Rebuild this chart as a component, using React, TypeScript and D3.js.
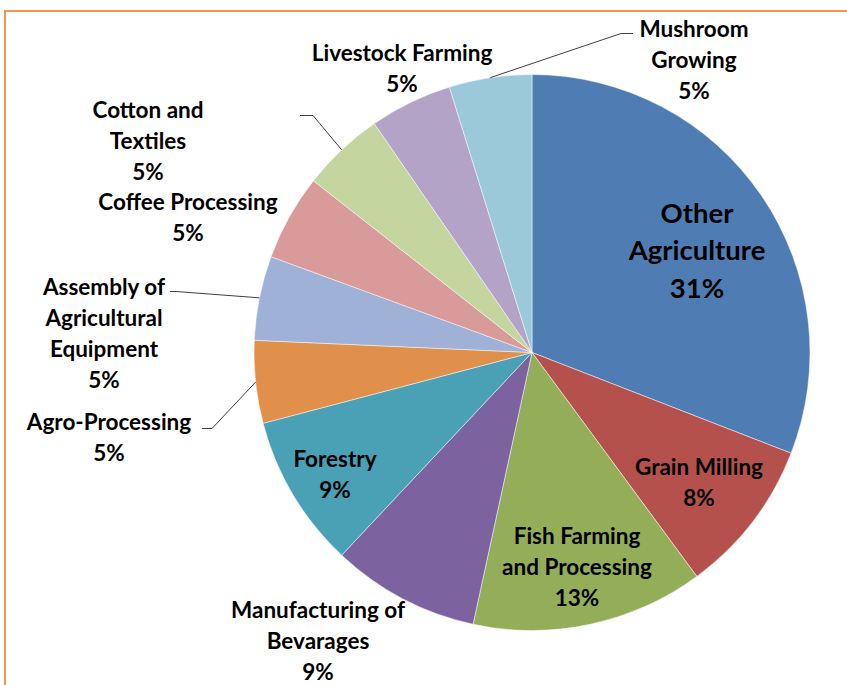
import React, { useEffect, useRef } from 'react';
import * as d3 from 'd3';

// sector shares, clockwise from 12 o'clock
const sectors = [
  'Other Agriculture',
  'Grain Milling',
  'Fish Farming and Processing',
  'Manufacturing of Bevarages',
  'Forestry',
  'Agro-Processing',
  'Assembly of Agricultural Equipment',
  'Coffee Processing',
  'Cotton and Textiles',
  'Livestock Farming',
  'Mushroom Growing',
];
const shares = [30.9, 9.0, 13.5, 8.6, 8.9, 4.8, 4.9, 5.0, 4.8, 4.8, 4.8];
// percentages as printed on the chart
const pctLabels = ['31%', '8%', '13%', '9%', '9%', '5%', '5%', '5%', '5%', '5%', '5%'];

// how the label text breaks into lines
const labelLines = [
  ['Other', 'Agriculture'],
  ['Grain Milling'],
  ['Fish Farming', 'and Processing'],
  ['Manufacturing of', 'Bevarages'],
  ['Forestry'],
  ['Agro-Processing'],
  ['Assembly of', 'Agricultural', 'Equipment'],
  ['Coffee Processing'],
  ['Cotton and', 'Textiles'],
  ['Livestock Farming'],
  ['Mushroom', 'Growing'],
];

const colors = [
  '#4F7DB3', '#B5514D', '#94AD58', '#7D62A0', '#4AA1B6', '#E0904A',
  '#9FB1D6', '#D99B99', '#C4D5A0', '#B2A3C7', '#9CC9DA',
];

// label placement relative to pie centre (label block centre) and optional leader elbow/end
const labelLayout: { dx: number; dy: number; big?: boolean; leader?: [number, number, number, number] }[] = [
  { dx: 165, dy: -102, big: true },
  { dx: 167, dy: 130 },
  { dx: 45, dy: 214 },
  { dx: -214, dy: 288 },
  { dx: -197, dy: 122 },
  { dx: -423, dy: 85, leader: [-320, 76, -330, 76] },
  { dx: -428, dy: -19, leader: [-356, -61, -362, -61] },
  { dx: -344, dy: -135 },
  { dx: -384, dy: -212, leader: [-219, -237, -232, -237] },
  { dx: -130, dy: -284 },
  { dx: 162, dy: -293, leader: [89, -319, 101, -319] },
];

const W = 847;
const H = 685;
const cx = 532;
const cy = 352.5;
const R = 278;

export default function App() {
  const ref = useRef<SVGSVGElement>(null);

  useEffect(() => {
    if (!ref.current) return;
    const svg = d3.select(ref.current);
    svg.selectAll('*').remove();

    svg.append('rect').attr('width', W).attr('height', H).attr('fill', '#fff');

    // orange frame (runs off the right/bottom edge)
    svg.append('rect')
      .attr('x', 5).attr('y', 11)
      .attr('width', W + 10).attr('height', H + 10)
      .attr('fill', 'none')
      .attr('stroke', '#F79646')
      .attr('stroke-width', 2);

    const data = sectors.map((s, i) => ({ name: s, value: shares[i], i }));
    const pie = d3.pie<typeof data[0]>().sort(null).value(d => d.value);
    const arcs = pie(data);
    const arc = d3.arc<d3.PieArcDatum<typeof data[0]>>().innerRadius(0).outerRadius(R);

    const g = svg.append('g').attr('transform', `translate(${cx},${cy})`);

    g.selectAll('path.slice')
      .data(arcs)
      .join('path')
      .attr('class', 'slice')
      .attr('d', arc)
      .attr('fill', d => colors[d.data.i])
      .attr('stroke', '#ffffff')
      .attr('stroke-opacity', 0.6)
      .attr('stroke-width', 0.8);

    // leader lines
    arcs.forEach(a => {
      const lay = labelLayout[a.data.i];
      if (!lay.leader) return;
      const mid = (a.startAngle + a.endAngle) / 2;
      const sx = R * Math.sin(mid);
      const sy = -R * Math.cos(mid);
      const [ex, ey, tx, ty] = lay.leader;
      g.append('path')
        .attr('d', d3.line()([[sx, sy], [ex, ey], [tx, ty]]))
        .attr('fill', 'none')
        .attr('stroke', '#404040')
        .attr('stroke-width', 1);
    });

    // labels
    arcs.forEach(a => {
      const i = a.data.i;
      const lay = labelLayout[i];
      const lines = [...labelLines[i], pctLabels[i]];
      const fs = lay.big ? 27.5 : 22.5;
      const lh = lay.big ? 37.5 : 31;
      const top = lay.dy - ((lines.length - 1) * lh) / 2;
      const t = g.append('text')
        .attr('text-anchor', 'middle')
        .attr('font-family', 'Lato, "Open Sans", sans-serif')
        .attr('font-weight', 'bold')
        .attr('font-size', fs)
        .attr('fill', '#000');
      lines.forEach((ln, k) => {
        t.append('tspan')
          .attr('x', lay.dx)
          .attr('y', top + k * lh)
          .attr('dy', '0.36em')
          .text(ln);
      });
    });
  }, []);

  return (
    <svg
      ref={ref}
      width={W}
      height={H}
      style={{ position: 'absolute', left: 0, top: 0 }}
    />
  );
}
